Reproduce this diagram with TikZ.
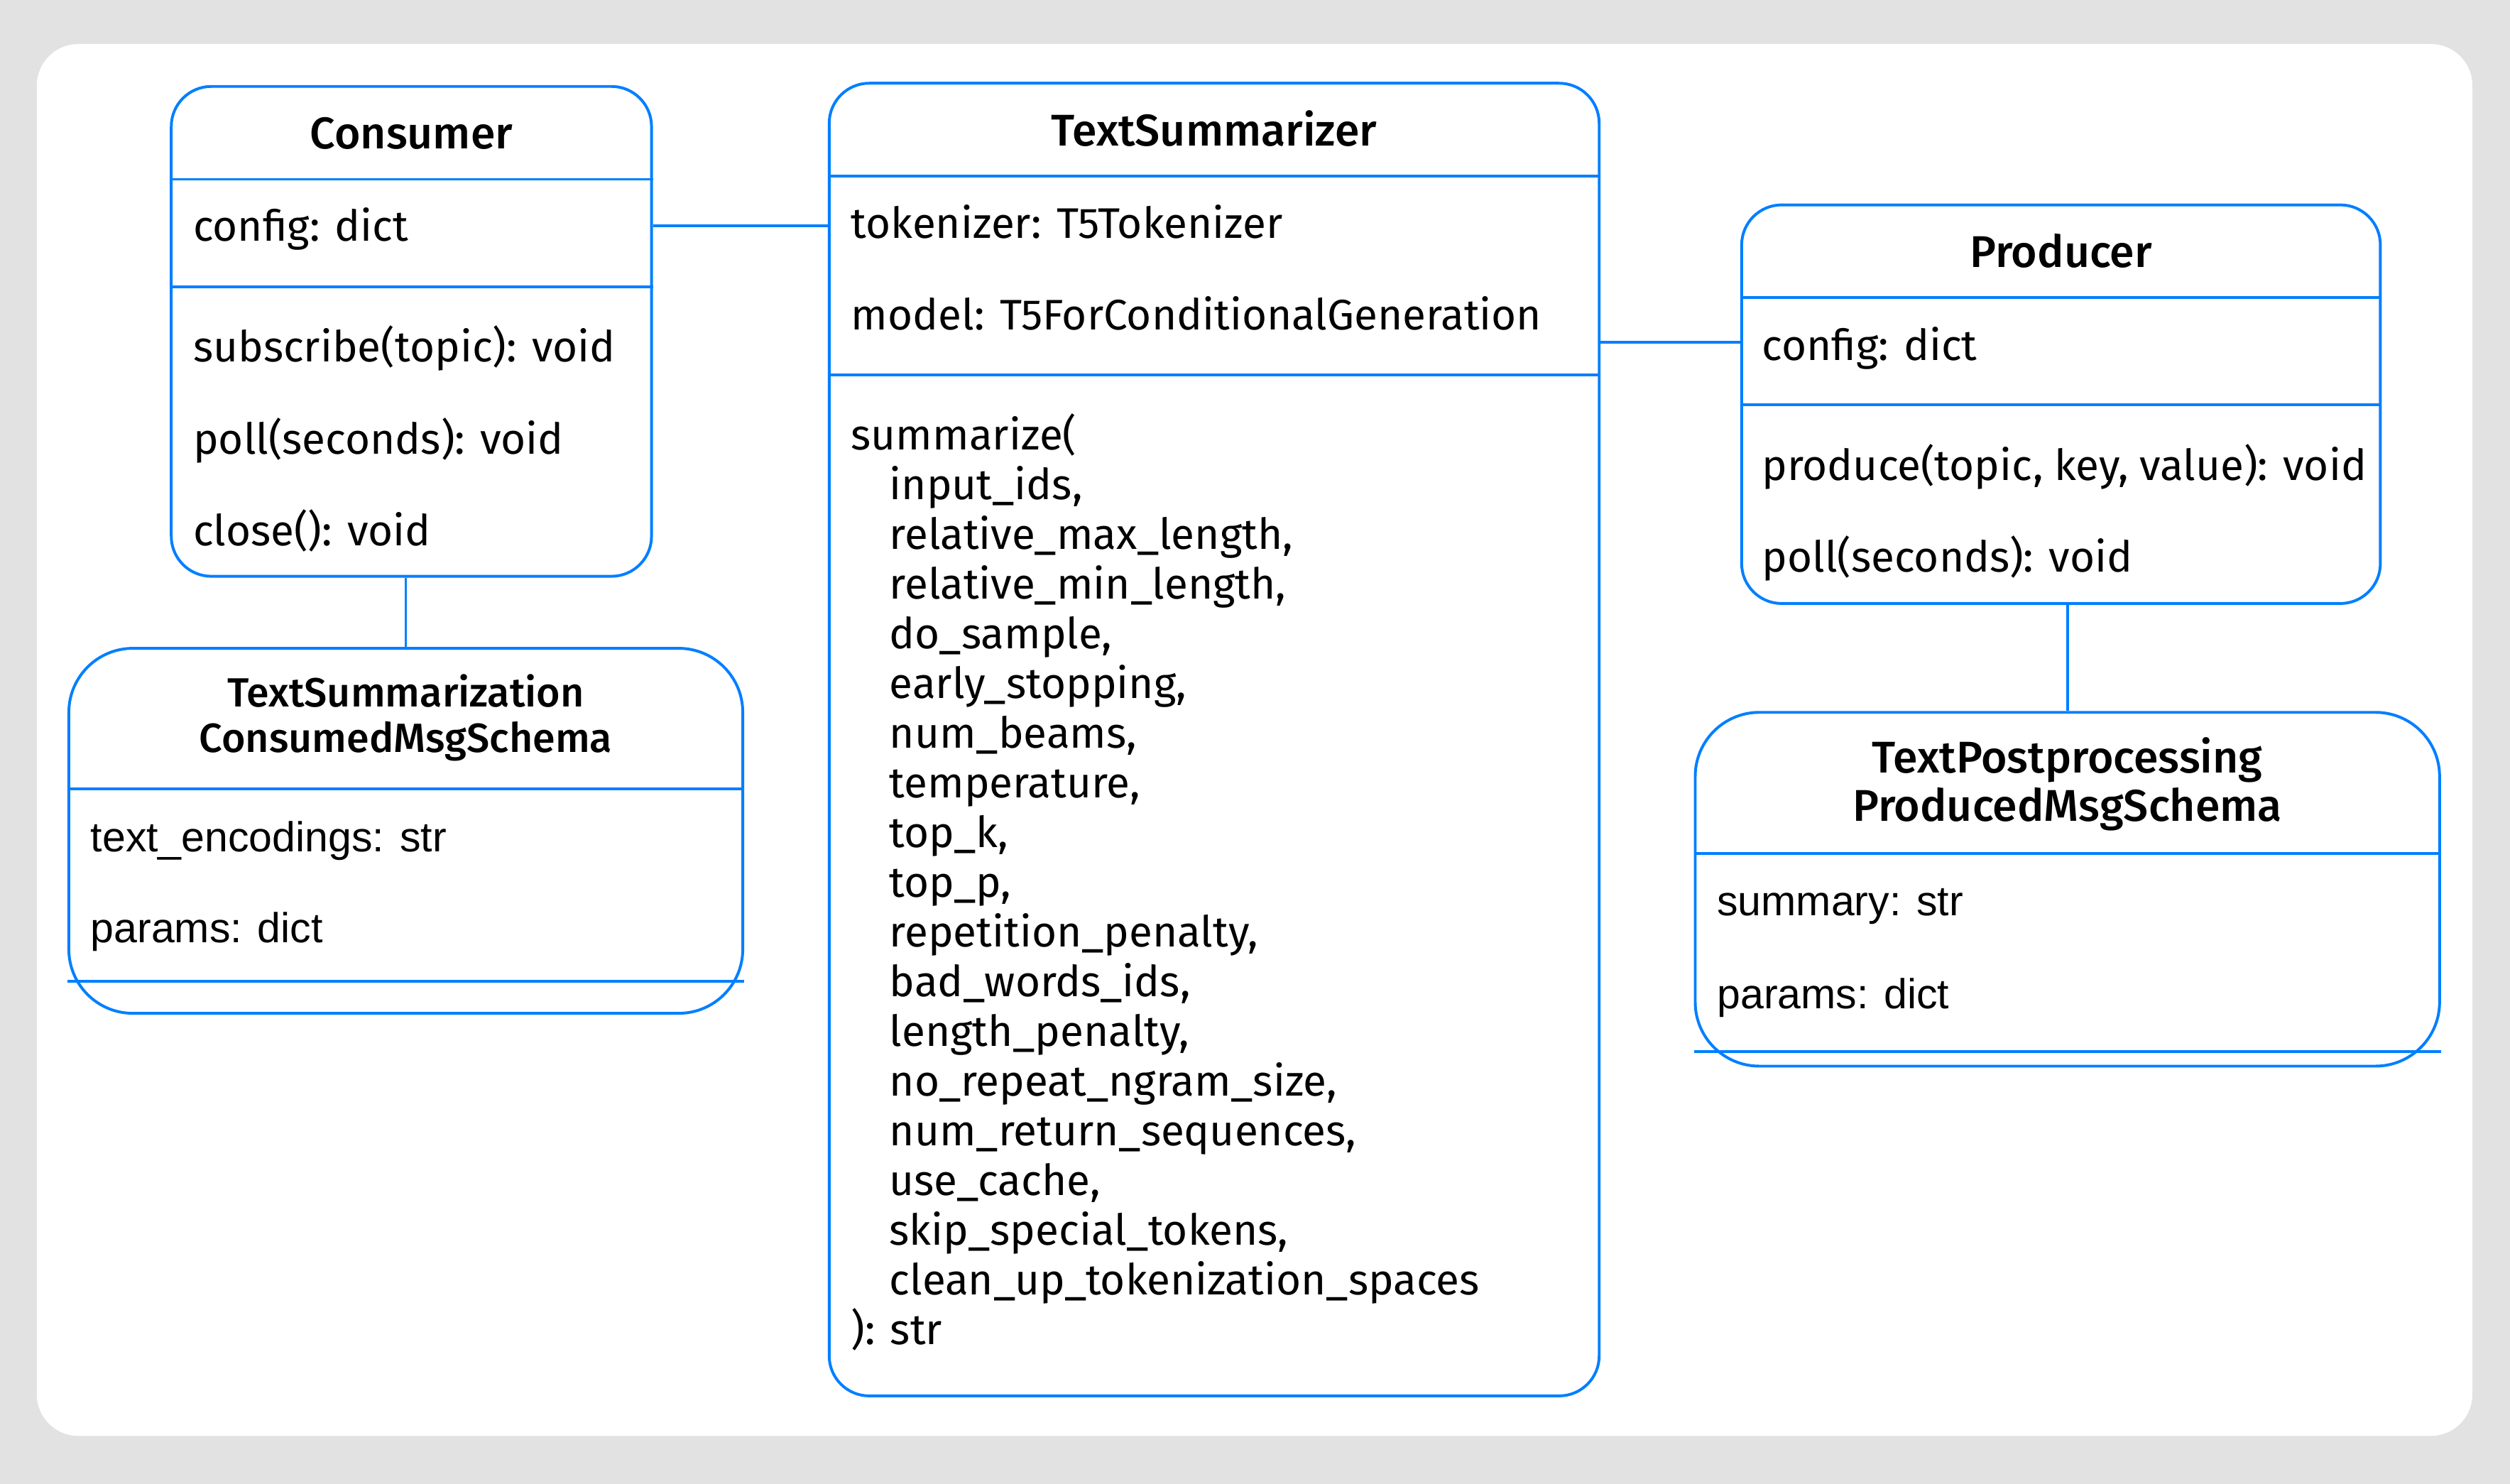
\documentclass[tikz,border=0pt]{standalone}
\usepackage{fontspec}
\setmainfont{Fira Sans}
\newfontfamily\titlefont{Fira Sans Medium}
\newfontfamily\fieldfont{Liberation Sans}

\definecolor{umlblue}{RGB}{0,127,255}
\definecolor{framegray}{RGB}{226,226,226}

\tikzset{
  classbox/.style={draw=umlblue, line width=0.5pt, fill=white, rounded corners=2.5mm, inner sep=0pt},
  schemabox/.style={classbox, rounded corners=4mm},
  sepline/.style={draw=umlblue, line width=0.5pt},
  link/.style={draw=umlblue, line width=0.5pt},
  ctitle/.style={font=\titlefont\fontsize{7.9}{9}\selectfont, inner sep=0pt, anchor=base},
  stitle/.style={font=\titlefont\fontsize{7.25}{8.7}\selectfont, inner sep=0pt, anchor=base},
  member/.style={font=\fontsize{7.6}{9}\selectfont, inner sep=0pt, anchor=base west},
  field/.style={font=\fieldfont\fontsize{7.45}{9}\selectfont, inner sep=0pt, anchor=base west},
}

\begin{document}
\begin{tikzpicture}[x=1mm, y=-1mm]

		% frame
		\useasboundingbox (0,0) rectangle (156.8,92.7);
		\fill[framegray] (0,0) rectangle (156.8,92.7);
		\fill[white, rounded corners=2.6mm] (2.3,2.75) rectangle (154.45,89.7);

		% class boxes
		\node[classbox, minimum width=30mm, minimum height=30.6mm] (consumer) at (25.7,20.7) {};
		\node[classbox, minimum width=48.1mm, minimum height=82mm] (summ) at (75.85,46.2) {};
		\node[classbox, minimum width=39.9mm, minimum height=24.9mm] (producer) at (128.75,25.25) {};

		% schema boxes
		\node[schemabox, minimum width=42.1mm, minimum height=22.8mm] (cschema) at (25.35,51.9) {};
		\node[schemabox, minimum width=46.5mm, minimum height=22.1mm] (pschema) at (129.15,55.55) {};

		% links
		\draw[link] (consumer.east |- 0,14.1) -- (summ.west |- 0,14.1);
		\draw[link] (summ.east |- 0,21.4) -- (producer.west |- 0,21.4);
		\draw[link] (cschema.north |- consumer.south) -- (cschema.north);
		\draw[link] (pschema.north |- producer.south) -- (pschema.north);

		% Consumer
		\draw[sepline] (consumer.west |- 0,11.2) -- (consumer.east |- 0,11.2);
		\draw[sepline] (consumer.west |- 0,17.9) -- (consumer.east |- 0,17.9);
		\node[ctitle] (consumer-t) at (25.7,9.3) {Consumer};
		\node[member] (consumer-a1) at (12.0,15.05) {config: dict};
		\node[member] (consumer-m1) at (12.0,22.6) {subscribe(topic): void};
		\node[member] (consumer-m2) at (12.0,28.35) {poll(seconds): void};
		\node[member] (consumer-m3) at (12.0,34.1) {close(): void};

		% TextSummarizer
		\draw[sepline] (summ.west |- 0,11.0) -- (summ.east |- 0,11.0);
		\draw[sepline] (summ.west |- 0,23.4) -- (summ.east |- 0,23.4);
		\node[ctitle] (summ-t) at (75.85,9.1) {TextSummarizer};
		\node[member] (summ-a1) at (53.1,14.86) {tokenizer: T5Tokenizer};
		\node[member] (summ-a2) at (53.1,20.6) {model: T5ForConditionalGeneration};
		\node[member] (summ-m1) at (53.1,28.1) {summarize(};
		\foreach \arg [count=\i] in {{input\_ids,}, {relative\_max\_length,}, {relative\_min\_length,},
				{do\_sample,}, {early\_stopping,}, {num\_beams,}, {temperature,}, {top\_k,}, {top\_p,},
				{repetition\_penalty,}, {bad\_words\_ids,}, {length\_penalty,}, {no\_repeat\_ngram\_size,},
				{num\_return\_sequences,}, {use\_cache,}, {skip\_special\_tokens,}, {clean\_up\_tokenization\_spaces}}
			\node[member] (summ-arg\i) at (55.5,{28.1+3.106*\i}) {\arg};
		\node[member] (summ-ret) at (53.1,84.0) {): str};

		% Producer
		\draw[sepline] (producer.west |- 0,18.6) -- (producer.east |- 0,18.6);
		\draw[sepline] (producer.west |- 0,25.3) -- (producer.east |- 0,25.3);
		\node[ctitle] (producer-t) at (128.75,16.7) {Producer};
		\node[member] (producer-a1) at (110.0,22.5) {config: dict};
		\node[member] (producer-m1) at (110.0,30.0) {produce(topic, key, value): void};
		\node[member] (producer-m2) at (110.0,35.75) {poll(seconds): void};

		% TextSummarizationConsumedMsgSchema
		\draw[sepline] (cschema.west |- 0,49.3) -- (cschema.east |- 0,49.3);
		\draw[sepline] (cschema.west |- 0,61.3) -- (cschema.east |- 0,61.3);
		\node[stitle] (cschema-t1) at (25.35,44.15) {TextSummarization};
		\node[stitle] (cschema-t2) at (25.35,47.0) {ConsumedMsgSchema};
		\node[field] (cschema-a1) at (5.6,53.2) {text\_encodings: str};
		\node[field] (cschema-a2) at (5.6,58.9) {params: dict};

		% TextPostprocessingProducedMsgSchema
		\draw[sepline] (pschema.west |- 0,53.3) -- (pschema.east |- 0,53.3);
		\draw[sepline] (pschema.west |- 0,65.7) -- (pschema.east |- 0,65.7);
		\node[stitle, font=\titlefont\fontsize{7.9}{9.4}\selectfont] (pschema-t1) at (129.15,48.3) {TextPostprocessing};
		\node[stitle, font=\titlefont\fontsize{7.9}{9.4}\selectfont] (pschema-t2) at (129.15,51.3) {ProducedMsgSchema};
		\node[field] (pschema-a1) at (107.2,57.2) {summary: str};
		\node[field] (pschema-a2) at (107.2,63.0) {params: dict};

\end{tikzpicture}
\end{document}
